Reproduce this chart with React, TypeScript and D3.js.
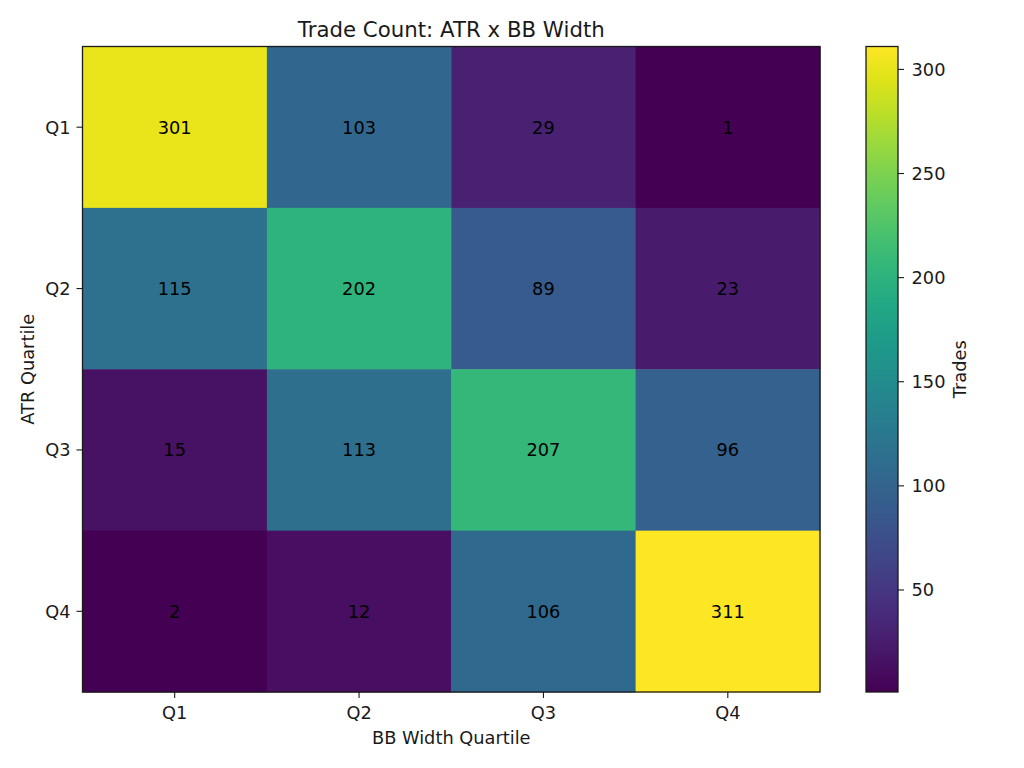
import React from "react";
import * as d3 from "d3";

const rowLabels = ["Q1", "Q2", "Q3", "Q4"]; // ATR quartile
const colLabels = ["Q1", "Q2", "Q3", "Q4"]; // BB width quartile
const counts = [
    [301, 103, 29, 1],
    [115, 202, 89, 23],
    [15, 113, 207, 96],
    [2, 12, 106, 311],
];
const cbarTicks = [50, 100, 150, 200, 250, 300];

const W = 1024;
const H = 768;
const plot = { left: 82.5, top: 46.5, right: 820, bottom: 692 };
const cbar = { left: 866, right: 898 };
const font = "DejaVu Sans, sans-serif";
const fs = 17.8;
const ink = "#1a1a1a";

const App: React.FC = () => {
    const flat = counts.flat();
    const vmin = d3.min(flat) ?? 0;
    const vmax = d3.max(flat) ?? 1;

    const x = d3.scaleBand().domain(colLabels).range([plot.left, plot.right]);
    const y = d3.scaleBand().domain(rowLabels).range([plot.top, plot.bottom]);
    const color = d3.scaleSequential(d3.interpolateViridis).domain([vmin, vmax]);
    const cy = d3.scaleLinear().domain([vmin, vmax]).range([plot.bottom, plot.top]);

    const stops = d3.range(0, 1.0001, 0.05);
    const midY = (plot.top + plot.bottom) / 2;

    return (
        <svg width={W} height={H} style={{ position: "absolute", left: 0, top: 0 }} fontFamily={font}>
            <defs>
                <linearGradient id="cb" x1="0" y1="1" x2="0" y2="0">
                    {stops.map((t) => (
                        <stop key={t} offset={t} stopColor={d3.interpolateViridis(t)} />
                    ))}
                </linearGradient>
            </defs>
            <rect width={W} height={H} fill="#fff" />

            {counts.map((row, i) =>
                row.map((v, j) => (
                    <g key={`${i}-${j}`}>
                        <rect
                            x={x(colLabels[j])}
                            y={y(rowLabels[i])}
                            width={x.bandwidth() + 0.5}
                            height={y.bandwidth() + 0.5}
                            fill={color(v)}
                        />
                        <text
                            x={(x(colLabels[j]) ?? 0) + x.bandwidth() / 2}
                            y={(y(rowLabels[i]) ?? 0) + y.bandwidth() / 2 + 6.5}
                            textAnchor="middle"
                            fontSize={fs}
                            fill="#000"
                        >
                            {v}
                        </text>
                    </g>
                ))
            )}
            <rect
                x={plot.left}
                y={plot.top}
                width={plot.right - plot.left}
                height={plot.bottom - plot.top}
                fill="none"
                stroke={ink}
                strokeWidth={1.3}
            />

            {/* x axis */}
            {colLabels.map((c) => {
                const cx = (x(c) ?? 0) + x.bandwidth() / 2;
                return (
                    <g key={c}>
                        <line x1={cx} x2={cx} y1={plot.bottom} y2={plot.bottom + 6} stroke={ink} strokeWidth={1.1} />
                        <text x={cx} y={719} textAnchor="middle" fontSize={fs} fill={ink}>
                            {c}
                        </text>
                    </g>
                );
            })}
            <text x={(plot.left + plot.right) / 2} y={744} textAnchor="middle" fontSize={fs} fill={ink}>
                BB Width Quartile
            </text>

            {/* y axis */}
            {rowLabels.map((r) => {
                const ry = (y(r) ?? 0) + y.bandwidth() / 2;
                return (
                    <g key={r}>
                        <line x1={plot.left - 6} x2={plot.left} y1={ry} y2={ry} stroke={ink} strokeWidth={1.1} />
                        <text x={70.5} y={ry + 6.5} textAnchor="end" fontSize={fs} fill={ink}>
                            {r}
                        </text>
                    </g>
                );
            })}
            <text transform={`translate(34,${midY}) rotate(-90)`} textAnchor="middle" fontSize={fs} fill={ink}>
                ATR Quartile
            </text>

            {/* title */}
            <text x={(plot.left + plot.right) / 2} y={36.5} textAnchor="middle" fontSize={21.3} fill={ink}>
                Trade Count: ATR x BB Width
            </text>

            {/* colorbar */}
            <rect
                x={cbar.left}
                y={plot.top}
                width={cbar.right - cbar.left}
                height={plot.bottom - plot.top}
                fill="url(#cb)"
                stroke={ink}
                strokeWidth={1.3}
            />
            {cbarTicks.map((t) => (
                <g key={t}>
                    <line x1={cbar.right} x2={cbar.right + 6} y1={cy(t)} y2={cy(t)} stroke={ink} strokeWidth={1.1} />
                    <text x={911.5} y={cy(t) + 6.5} fontSize={fs} fill={ink}>
                        {t}
                    </text>
                </g>
            ))}
            <text transform={`translate(966,${midY}) rotate(-90)`} textAnchor="middle" fontSize={fs} fill={ink}>
                Trades
            </text>
        </svg>
    );
};

export default App;
